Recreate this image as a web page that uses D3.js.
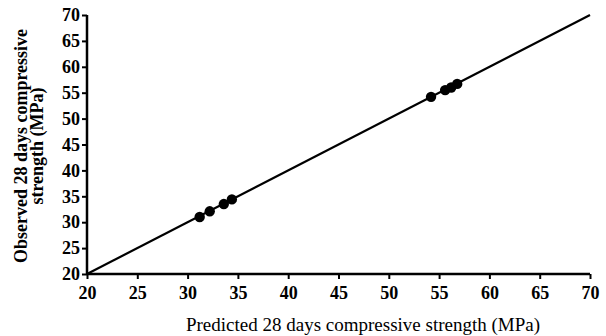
<!DOCTYPE html>
<html>
<head>
<meta charset="utf-8">
<script src="https://cdn.jsdelivr.net/npm/d3@7"></script>
<style>
  body { margin: 0; background: #fff; }
  svg { display: block; }
</style>
</head>
<body>
<svg id="chart" width="606" height="336"></svg>
<script>
// values
const predicted = [31.2, 32.2, 33.6, 34.4, 54.2, 55.6, 56.2, 56.8];
const observed  = [31.0, 32.1, 33.5, 34.4, 54.2, 55.5, 56.0, 56.7];
const xTicks = [20, 25, 30, 35, 40, 45, 50, 55, 60, 65, 70];
const yTicks = [20, 25, 30, 35, 40, 45, 50, 55, 60, 65, 70];
const fitLine = [20, 70];

const serif = "'Liberation Serif', 'Times New Roman', serif";
const svg = d3.select("#chart");

const x = d3.scaleLinear().domain([20, 70]).range([87, 590]);
const y = d3.scaleLinear().domain([20, 70]).range([274, 15]);

// axes
const xAxis = svg.append("g")
  .attr("transform", `translate(0,${y(20)})`)
  .call(d3.axisBottom(x).tickValues(xTicks).tickSize(5).tickPadding(7));
const yAxis = svg.append("g")
  .attr("transform", `translate(${x(20)},0)`)
  .call(d3.axisLeft(y).tickValues(yTicks).tickSize(5).tickPadding(2));

[xAxis, yAxis].forEach(a => {
  a.attr("font-family", null).attr("font-size", null);
  a.select(".domain").attr("stroke", "#000").attr("stroke-width", 2.5);
  a.selectAll(".tick line").attr("stroke", "#000").attr("stroke-width", 2);
  a.selectAll(".tick text")
    .style("font-family", serif)
    .style("font-weight", "bold")
    .style("font-size", "18px")
    .attr("fill", "#000");
});
xAxis.select(".domain").attr("d", `M${x(20)},0H${x(70)}`);
yAxis.select(".domain").attr("d", `M0,${y(20)}V${y(70)}`);

// line of equality
svg.append("line")
  .attr("x1", x(fitLine[0])).attr("y1", y(fitLine[0]))
  .attr("x2", x(fitLine[1])).attr("y2", y(fitLine[1]))
  .attr("stroke", "#000")
  .attr("stroke-width", 2.2);

// points
svg.append("g").selectAll("circle")
  .data(predicted)
  .join("circle")
  .attr("cx", d => x(d))
  .attr("cy", (d, i) => y(observed[i]))
  .attr("r", 5.2)
  .attr("fill", "#000");

// axis titles
svg.append("text")
  .attr("x", 363).attr("y", 331)
  .attr("text-anchor", "middle")
  .style("font-family", serif)
  .style("font-size", "19px")
  .text("Predicted 28 days compressive strength (MPa)");

const yTitle = svg.append("text")
  .attr("transform", "translate(27,146) rotate(-90)")
  .attr("text-anchor", "middle")
  .style("font-family", serif)
  .style("font-weight", "bold")
  .style("font-size", "18px");
yTitle.append("tspan").attr("x", 0).attr("y", 0).text("Observed 28 days compressive");
yTitle.append("tspan").attr("x", 0).attr("y", 16).text("strength (MPa)");
</script>
</body>
</html>
